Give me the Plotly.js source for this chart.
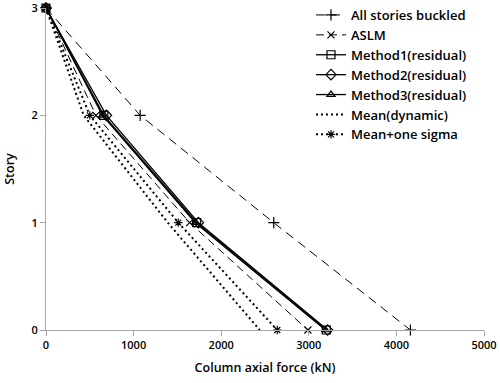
<!DOCTYPE html>
<html>
<head>
<meta charset="utf-8">
<script src="https://cdn.plot.ly/plotly-3.0.1.min.js"></script>
<style>html,body{margin:0;padding:0;background:#fff}#chart{width:500px;height:383px}</style>
</head>
<body>
<div id="chart"></div>
<script>
const stories = [3, 2, 1, 0];
const allBuckled = [0, 1075, 2600, 4160];
const aslm = [0, 570, 1640, 2990];
const method1 = [0, 660, 1720, 3200];
const method2 = [0, 690, 1740, 3215];
const method3 = [0, 645, 1705, 3190];
const meanDynamic = [0, 430, 1390, 2440];
const meanSigma = [0, 500, 1510, 2640];
const xTicks = [0, 1000, 2000, 3000, 4000, 5000];
const yTicks = [0, 1, 2, 3];

const font = "Open Sans, Noto Sans CJK KR, sans-serif";
function tr(name, x, dash, width, symbol, size) {
  const t = {
    type: 'scatter', mode: symbol ? 'lines+markers' : 'lines', name: name,
    x: x, y: stories, cliponaxis: false,
    line: {color: '#000', width: width, dash: dash}
  };
  if (symbol) t.marker = {symbol: symbol, size: size || 8, color: '#000', line: {color: '#000', width: 1.2}};
  return t;
}
const data = [
  tr('All stories buckled', allBuckled, '9px,6px', 1, 'cross-thin-open', 8),
  tr('ASLM', aslm, '8px,5px', 1, 'x-thin-open', 7),
  tr('Method1(residual)', method1, 'solid', 1.3, 'square-open', 8),
  tr('Method2(residual)', method2, 'solid', 1.3, 'diamond-open', 8),
  tr('Method3(residual)', method3, 'solid', 1.3, 'triangle-up-open', 7),
  tr('Mean(dynamic)', meanDynamic, '2px,3px', 2, null),
  tr('Mean+one sigma', meanSigma, '2px,3px', 2, 'asterisk-open', 7)
];
const axisCommon = {
  showgrid: false, zeroline: false, showline: true, linecolor: '#a6a6a6', linewidth: 1,
  ticks: 'outside', ticklen: 5, tickcolor: '#a6a6a6', ticklabeloverflow: 'allow',
  tickfont: {family: font, size: 11, color: '#000', weight: 600}
};
const layout = {
  width: 500, height: 383,
  margin: {l: 46, r: 16, t: 0, b: 53},
  paper_bgcolor: '#fff', plot_bgcolor: '#fff',
  font: {family: font, color: '#000'},
  xaxis: Object.assign({}, axisCommon, {
    range: [0, 5000], tickvals: xTicks, ticktext: xTicks.map(String),
    title: {text: 'Column axial force (kN)', font: {family: font, size: 12.5, color: '#000', weight: 600}, standoff: 12}
  }),
  yaxis: Object.assign({}, axisCommon, {
    range: [0, 3], tickvals: yTicks, ticktext: yTicks.map(String), domain: [0, 322 / 330],
    title: {text: 'Story', font: {family: font, size: 12.5, color: '#000', weight: 600}, standoff: 14}
  }),
  showlegend: true,
  legend: {
    x: 0.605, y: 1, xanchor: 'left', yanchor: 'top',
    bgcolor: 'rgba(0,0,0,0)', font: {family: font, size: 13, color: '#000', weight: 600},
    itemwidth: 30, tracegroupgap: 0
  }
};
Plotly.newPlot('chart', data, layout, {displayModeBar: false, staticPlot: true});
</script>
</body>
</html>
